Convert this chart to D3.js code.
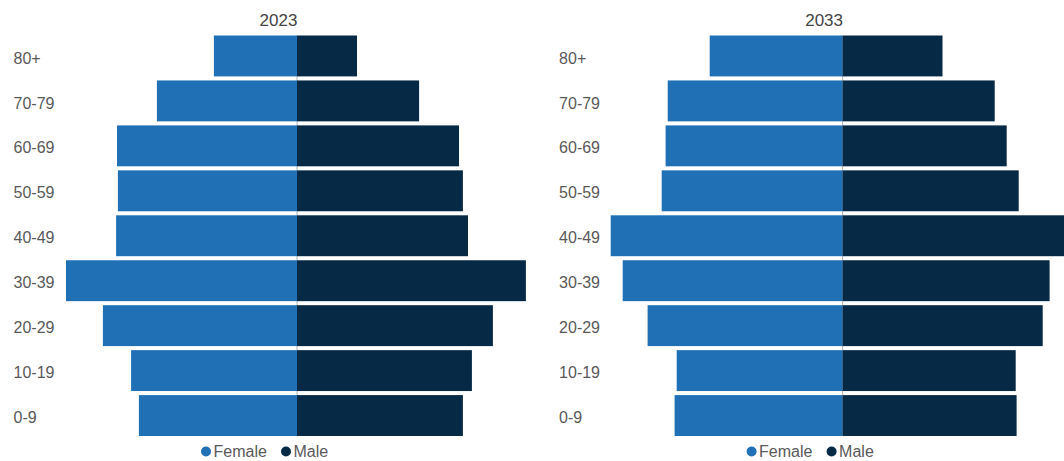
<!DOCTYPE html>
<html>
<head>
<meta charset="utf-8">
<script src="https://cdn.jsdelivr.net/npm/d3@7"></script>
<style>
  html, body { margin: 0; padding: 0; background: #fff; }
  svg { display: block; font-family: "Liberation Sans", Arial, sans-serif; }
</style>
</head>
<body>
<svg id="chart" width="1064" height="461"></svg>
<script>
// age groups, top to bottom as shown
const ages = ["80+", "70-79", "60-69", "50-59", "40-49", "30-39", "20-29", "10-19", "0-9"];
const years = ["2023", "2033"];
// share of population (%)
const female2023 = [2.77, 4.67, 6.0, 5.97, 6.03, 7.7, 6.47, 5.53, 5.27];
const male2023 = [2.0, 4.07, 5.4, 5.53, 5.7, 7.63, 6.53, 5.83, 5.53];
const female2033 = [4.43, 5.83, 5.9, 6.03, 7.73, 7.33, 6.5, 5.53, 5.6];
const male2033 = [3.33, 5.07, 5.47, 5.87, 7.85, 6.9, 6.67, 5.77, 5.8];
const seriesNames = ["Female", "Male"];

const colors = { Female: "#2070b6", Male: "#062a45" };
const textColor = "#595959";

const svg = d3.select("#chart");

// shared scales
const yScale = d3.scaleBand().domain(ages).range([35.5, 436]).paddingInner(0.09).paddingOuter(0);
const widthScale = d3.scaleLinear().domain([0, 10]).range([0, 300]);

const panels = [
  { year: years[0], female: female2023, male: male2023, offset: 0 },
  { year: years[1], female: female2033, male: male2033, offset: 545.6 }
];

panels.forEach(p => drawPanel(p));

function drawPanel(p) {
  const g = svg.append("g").attr("transform", `translate(${p.offset},0)`);
  const cx = 297; // centre line of the pyramid

  // title
  g.append("text")
    .attr("x", cx - 18.5)
    .attr("y", 25.5)
    .attr("text-anchor", "middle")
    .attr("font-size", 17)
    .attr("fill", "#444")
    .text(p.year);

  // thin centre line behind the bars
  g.append("line")
    .attr("x1", cx).attr("x2", cx)
    .attr("y1", yScale.range()[0]).attr("y2", yScale.range()[1])
    .attr("stroke", "#b5b5b5")
    .attr("stroke-width", 1);

  // female bars go left
  g.selectAll(".female")
    .data(p.female)
    .join("rect")
    .attr("class", "female")
    .attr("x", d => cx - widthScale(d))
    .attr("y", (d, i) => yScale(ages[i]))
    .attr("width", d => widthScale(d))
    .attr("height", yScale.bandwidth())
    .attr("fill", colors.Female);

  // male bars go right
  g.selectAll(".male")
    .data(p.male)
    .join("rect")
    .attr("class", "male")
    .attr("x", cx)
    .attr("y", (d, i) => yScale(ages[i]))
    .attr("width", d => widthScale(d))
    .attr("height", yScale.bandwidth())
    .attr("fill", colors.Male);

  // age labels
  g.selectAll(".age")
    .data(ages)
    .join("text")
    .attr("class", "age")
    .attr("x", 13.5)
    .attr("y", d => yScale(d) + yScale.bandwidth() / 2 + 2)
    .attr("dy", "0.35em")
    .attr("font-size", 16)
    .attr("fill", textColor)
    .text(d => d);

  // legend
  const legendX = [206, 286];
  const lg = g.selectAll(".legend")
    .data(seriesNames)
    .join("g")
    .attr("class", "legend")
    .attr("transform", (d, i) => `translate(${legendX[i]},451.5)`);
  lg.append("circle")
    .attr("r", 5)
    .attr("fill", d => colors[d]);
  lg.append("text")
    .attr("x", 7.5)
    .attr("y", 5.5)
    .attr("font-size", 16)
    .attr("fill", textColor)
    .text(d => d);
}
</script>
</body>
</html>
